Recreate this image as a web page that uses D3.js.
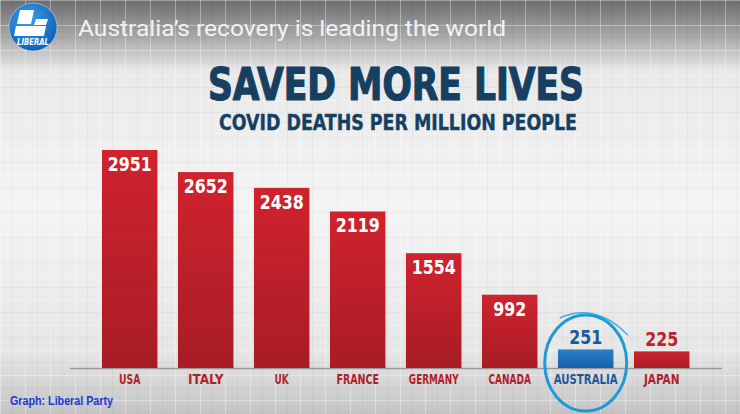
<!DOCTYPE html>
<html><head><meta charset="utf-8">
<script src="https://cdn.jsdelivr.net/npm/d3@7"></script>
<style>html,body{margin:0;padding:0;overflow:hidden;background:#ddd}</style>
</head><body>
<svg id="c" width="740" height="414"></svg>
<script>
const countries = ["USA","ITALY","UK","FRANCE","GERMANY","CANADA","AUSTRALIA","JAPAN"];
const deaths = [2951,2652,2438,2119,1554,992,251,225];
const highlight = "AUSTRALIA";
const titleText = "SAVED MORE LIVES";
const subtitleText = "COVID DEATHS PER MILLION PEOPLE";
const headerText = "Australia\u2019s recovery is leading the world";
const sourceText = "Graph: Liberal Party";

const svg = d3.select("#c");
const W = 740, H = 414;
const defs = svg.append("defs");
const bg = defs.append("linearGradient").attr("id","bg").attr("x1",0).attr("x2",0).attr("y1",0).attr("y2",1);
[[0,"#6c6c6c"],[0.09,"#a9a9a9"],[0.17,"#e9e9e9"],[0.5,"#f4f4f4"],[0.85,"#e6e6e6"],[1,"#c4c4c4"]].forEach(s=>bg.append("stop").attr("offset",s[0]).attr("stop-color",s[1]));
const red = defs.append("linearGradient").attr("id","red").attr("x1",0).attr("x2",0).attr("y1",0).attr("y2",1);
red.append("stop").attr("offset",0).attr("stop-color","#d0232e");
red.append("stop").attr("offset",1).attr("stop-color","#a81c25");
const blue = defs.append("linearGradient").attr("id","blue").attr("x1",0).attr("x2",0).attr("y1",0).attr("y2",1);
blue.append("stop").attr("offset",0).attr("stop-color","#2a7fc9");
blue.append("stop").attr("offset",1).attr("stop-color","#1560a8");
const logoG = defs.append("radialGradient").attr("id","logo").attr("cx",0.4).attr("cy",0.35).attr("r",0.7);
logoG.append("stop").attr("offset",0).attr("stop-color","#3fa0ea");
logoG.append("stop").attr("offset",1).attr("stop-color","#0b5fb5");

svg.append("rect").attr("width",W).attr("height",H).attr("fill","url(#bg)");
// faint grid
const grid = svg.append("g").attr("stroke","#ffffff").attr("stroke-opacity",0.35).attr("stroke-width",1);
d3.range(0, W, 25).forEach(x=>grid.append("line").attr("x1",x+0.5).attr("x2",x+0.5).attr("y1",0).attr("y2",H));
d3.range(0, H, 25).forEach(y=>grid.append("line").attr("x1",0).attr("x2",W).attr("y1",y+0.5).attr("y2",y+0.5));
const grid2 = svg.append("g").attr("stroke","#000").attr("stroke-opacity",0.035);
d3.range(12, W, 25).forEach(x=>grid2.append("line").attr("x1",x+0.5).attr("x2",x+0.5).attr("y1",0).attr("y2",H));
d3.range(12, H, 25).forEach(y=>grid2.append("line").attr("x1",0).attr("x2",W).attr("y1",y+0.5).attr("y2",y+0.5));

// header
svg.append("circle").attr("cx",33).attr("cy",27).attr("r",24).attr("fill","url(#logo)").attr("stroke","#fff").attr("stroke-opacity",0.4);
const lg = svg.append("g").attr("fill","#fff");
lg.append("path").attr("d","M20 10 L34 10 L31 24 L17 24 Z");
lg.append("path").attr("d","M16 26 L46 26 L44 36 L14 36 Z");
lg.append("path").attr("d","M36 19 L48 19 L46 25 L34 25 Z");
lg.append("text").attr("x",33).attr("y",45).attr("text-anchor","middle").attr("font-family","DejaVu Sans Condensed, sans-serif")
  .attr("font-weight","bold").attr("font-style","italic").attr("font-size",8).attr("textLength",32).attr("lengthAdjust","spacingAndGlyphs").text("LIBERAL");
svg.append("text").attr("x",78).attr("y",36).attr("fill","#f2f2f2").attr("font-family","Roboto, sans-serif")
  .attr("font-size",22).attr("textLength",428).attr("lengthAdjust","spacingAndGlyphs").text(headerText);

const narrow = "DejaVu Sans Condensed, sans-serif";
// titles
svg.append("text").attr("x",396).attr("y",100).attr("text-anchor","middle").attr("fill","#163f62")
  .attr("font-family",narrow).attr("font-weight","bold")
  .attr("font-size",44).attr("stroke","#163f62").attr("stroke-width",1.2)
  .attr("textLength",376).attr("lengthAdjust","spacingAndGlyphs").text(titleText);
svg.append("text").attr("x",398).attr("y",130).attr("text-anchor","middle").attr("fill","#163f62")
  .attr("font-family",narrow).attr("font-weight","bold")
  .attr("font-size",22).attr("stroke","#163f62").attr("stroke-width",0.4)
  .attr("textLength",358).attr("lengthAdjust","spacingAndGlyphs").text(subtitleText);

// scales
const x = d3.scaleBand().domain(countries).range([91.7, 699.7]).paddingInner(0.27).paddingOuter(0.135);
const y = d3.scaleLinear().domain([0, 2951]).range([368, 150]);

svg.append("line").attr("x1",70).attr("x2",722).attr("y1",368.5).attr("y2",368.5).attr("stroke","#9a9a9a").attr("stroke-width",1.5);

const data = countries.map((c,i)=>({c, v:deaths[i]}));
svg.append("g").selectAll("rect").data(data).join("rect")
  .attr("x", d=>x(d.c)).attr("width", x.bandwidth())
  .attr("y", d=>y(d.v)).attr("height", d=>y(0)-y(d.v))
  .attr("fill", d=>d.c===highlight?"url(#blue)":"url(#red)");

svg.append("g").selectAll("text").data(data).join("text")
  .attr("x", d=>x(d.c)+x.bandwidth()/2)
  .attr("y", d=> (y(0)-y(d.v))>40 ? y(d.v)+21 : y(d.v)-5)
  .attr("text-anchor","middle").attr("font-family",narrow).attr("font-weight","bold").attr("font-size",20)
  .attr("textLength", d=>String(d.v).length*11).attr("lengthAdjust","spacingAndGlyphs")
  .attr("fill", d=> (y(0)-y(d.v))>40 ? "#ffffff" : (d.c===highlight?"#1d5996":"#c0222c"))
  .text(d=>d.v);

// x labels
const xAxis = svg.append("g").attr("transform","translate(0,368)")
  .call(d3.axisBottom(x).tickSize(0).tickPadding(6));
xAxis.select(".domain").remove();
xAxis.selectAll("text").attr("font-family",narrow).attr("font-weight","bold").attr("font-size",14)
  .attr("textLength", d=>d.length*7.1).attr("lengthAdjust","spacingAndGlyphs")
  .attr("fill", d=>d===highlight?"#1d5996":"#b01f29");

// highlight ring
const cx = x(highlight)+x.bandwidth()/2;
svg.append("ellipse").attr("cx",cx).attr("cy",363).attr("rx",41).attr("ry",48)
  .attr("fill","none").attr("stroke","#1f9ad8").attr("stroke-width",3);
svg.append("path").attr("d", `M${cx-26} ${318} Q ${cx+10} ${302} ${cx+42} ${335}`)
  .attr("fill","none").attr("stroke","#1f9ad8").attr("stroke-width",1.5).attr("stroke-opacity",0.8);

svg.append("text").attr("x",10).attr("y",405).attr("fill","#1a3acd").attr("font-family","Arial, Liberation Sans, sans-serif")
  .attr("font-weight","bold").attr("font-size",12).attr("textLength",103).attr("lengthAdjust","spacingAndGlyphs").text(sourceText);
</script>
</body></html>
